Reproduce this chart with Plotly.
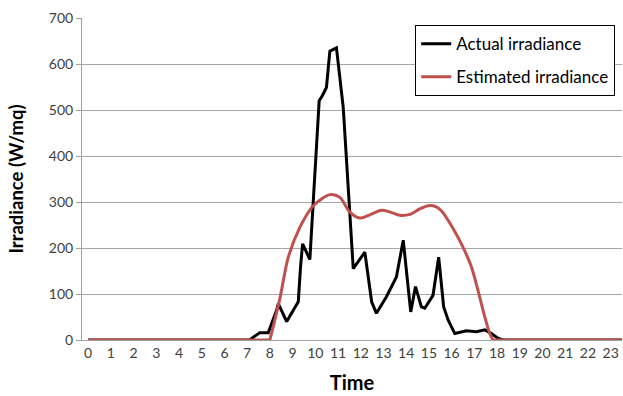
import plotly.graph_objects as go

# Actual irradiance (W/mq)
actual_hours = [0, 7.1, 7.56, 7.93, 8.3, 8.37, 8.74, 9.25, 9.35, 9.44, 9.76, 10.17, 10.32, 10.49,
                10.64, 10.93, 11.23, 11.67, 12.18, 12.48, 12.69, 13.13, 13.57, 13.87, 14.2,
                14.41, 14.67, 14.82, 15.18, 15.43, 15.65, 15.85, 16.14, 16.65, 17.09, 17.46,
                17.75, 18.04, 18.25, 23.75]
actual = [0, 0, 16, 16, 65, 79, 40, 83, 159, 209, 175, 520, 532, 549,
          628, 635, 505, 155, 191, 83, 58, 94, 137, 217, 61,
          116, 72, 69, 97, 180, 72, 43, 14, 20, 18, 22,
          14, 4, 0, 0]

# Estimated irradiance (W/mq)
est_hours = [0, 8.0, 8.44, 8.81, 9.32, 9.91, 10.64, 11.08, 11.52, 11.96, 12.4, 12.91, 13.3,
             13.72, 14.16, 14.6, 14.97, 15.3, 15.55, 16.07, 16.5, 16.87, 17.16, 17.46,
             17.68, 17.82, 23.75]
est = [0, 0, 90, 180, 245, 292, 316, 310, 278, 265, 272, 282, 278,
       271, 273, 285, 292, 290, 281, 242, 202, 159, 108, 50,
       14, 0, 0]

x_ticks = list(range(24))
y_ticks = [0, 100, 200, 300, 400, 500, 600, 700]

RED = "#c0504d"
FONT = "Lato"

fig = go.Figure()
fig.add_trace(go.Scatter(x=actual_hours, y=actual, mode="lines", name="Actual irradiance",
                         line=dict(color="black", width=3), legendgroup="a"))
# flat parts of the estimate (straight), hump (smoothed)
fig.add_trace(go.Scatter(x=est_hours[:2] + [None] + est_hours[-2:],
                         y=est[:2] + [None] + est[-2:], mode="lines",
                         line=dict(color=RED, width=3), showlegend=False, legendgroup="b"))
fig.add_trace(go.Scatter(x=est_hours[1:-1], y=est[1:-1], mode="lines", name="Estimated irradiance",
                         line=dict(color=RED, width=3, shape="spline", smoothing=0.8),
                         legendgroup="b"))

fig.update_layout(
    width=623, height=396,
    margin=dict(l=82, r=1, t=18, b=56),
    paper_bgcolor="white", plot_bgcolor="white",
    font=dict(family=FONT, color="#404040", size=14),
    showlegend=True,
    legend=dict(x=0.617, y=0.978, xanchor="left", yanchor="top",
                bgcolor="white", bordercolor="black", borderwidth=1,
                font=dict(family=FONT, size=17, color="black"),
                tracegroupgap=8, itemwidth=30),
    xaxis=dict(range=[-0.27, 23.5], tickmode="array", tickvals=x_ticks,
               ticktext=[str(v) for v in x_ticks], showgrid=False, zeroline=False,
               showline=True, linecolor="#a0a0a0", linewidth=1, ticks="", automargin=False,
               tickfont=dict(size=14, color="#404040"),
               title=dict(text="<b>Time</b>", font=dict(size=20, color="black"), standoff=16)),
    yaxis=dict(range=[0, 700], tickmode="array", tickvals=y_ticks, showgrid=True,
               gridcolor="#a6a6a6", gridwidth=1, zeroline=False, showline=True, automargin=False,
               linecolor="#a0a0a0", linewidth=1, ticks="outside", ticklen=5, tickcolor="#a0a0a0",
               tickfont=dict(size=14, color="#404040"),
               title=dict(text="<b>Irradiance (W/mq)</b>", font=dict(size=18.5, color="black"), standoff=20)),
)

fig.write_html("out.html", config={"displayModeBar": False},
               post_script="document.body.style.margin='0';")
